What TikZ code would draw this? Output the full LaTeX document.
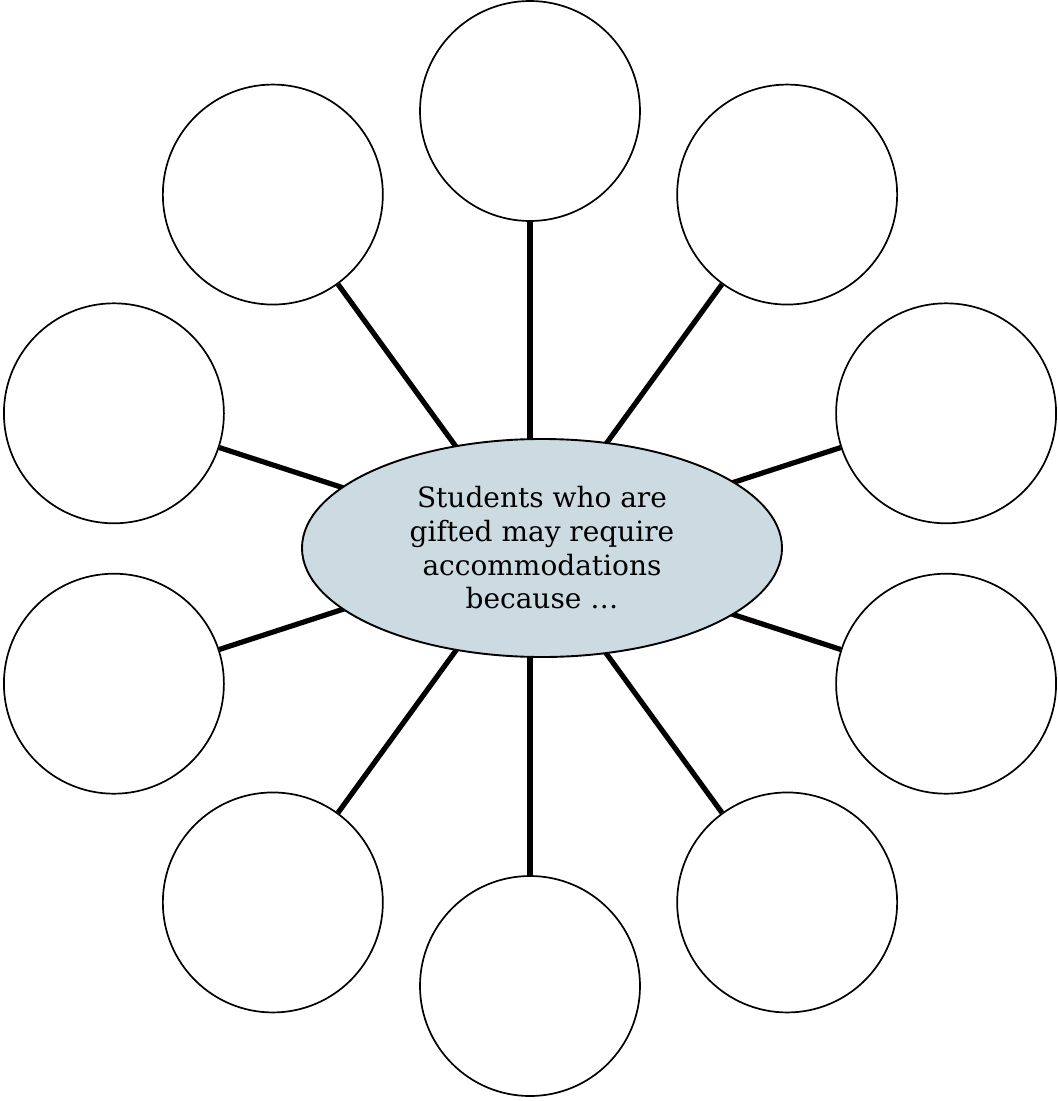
\documentclass[tikz,border=0pt]{standalone}
\usepackage{fontspec}
\setmainfont{DejaVu Serif}
\usetikzlibrary{shapes.geometric,calc}
\definecolor{hubfill}{HTML}{CCDBE2}
\begin{document}
\begin{tikzpicture}[x=1pt,y=-1pt,
  leaf/.style={circle,draw=black,line width=1.7pt,fill=white,minimum size=220pt,inner sep=0pt},
  spoke/.style={line width=5.2pt,black},
  hubnode/.style={ellipse,draw=black,line width=1.9pt,fill=hubfill,minimum width=480pt,minimum height=218pt,inner sep=0pt,align=center,
    font=\fontsize{28}{33.7}\selectfont}]
  \useasboundingbox (0,0) rectangle (1058,1101);
  % hub point the spokes radiate from
  \coordinate (hub) at (530,548.5);
  % ten empty circles spaced 36 degrees apart
  \foreach \i/\a in {1/90,2/54,3/18,4/-18,5/-54,6/-90,7/-126,8/-162,9/162,10/126}{
    \node[leaf] (c\i) at ($(hub)+(\a:437.5pt)$) {};
  }
  \foreach \i in {1,...,10}{
    \draw[spoke] (c\i) -- (hub);
  }
  \node[hubnode] (center) at (542,548) {Students who are\\gifted may require\\accommodations\\because \dots};
\end{tikzpicture}
\end{document}
